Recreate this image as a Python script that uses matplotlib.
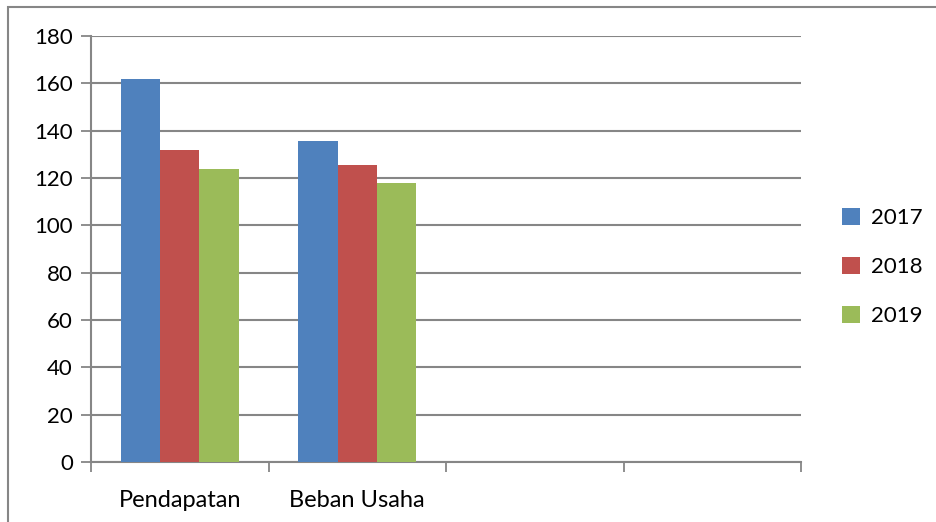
import numpy as np
import matplotlib.pyplot as plt
import matplotlib.patches as mpatches

plt.rcParams['font.family'] = ['Lato', 'DejaVu Sans']

# --- data ---
categories = ['Pendapatan', 'Beban Usaha', '', '']
years = ['2017', '2018', '2019']
v2017 = [162, 135.5]
v2018 = [132, 125.6]
v2019 = [124, 117.7]
colors = ['#4f81bd', '#c0504d', '#9bbb59']

fig = plt.figure(figsize=(9.36, 5.22), dpi=100)
# outer chart border (Excel style)
fig.patches.append(mpatches.Rectangle((8 / 936, -0.1), 1.2, 1 - 7 / 522 + 0.1,
                                      transform=fig.transFigure, fill=False,
                                      edgecolor='#868686', linewidth=1.5))

ax = fig.add_axes([91 / 936, 1 - 462 / 522, 710 / 936, 426 / 522])

bw = 2 / 9
x = np.arange(2) + 0.5
for i, (vals, lab) in enumerate(zip([v2017, v2018, v2019], years)):
    ax.bar(x + (i - 1) * bw, vals, width=bw, color=colors[i], label=lab,
           zorder=3, edgecolor='none')

ax.set_xlim(0, 4)
ax.set_ylim(0, 180)
ax.set_yticks(np.arange(0, 181, 20))
ax.yaxis.grid(True, color='#868686', linewidth=1.5, zorder=0)

ax.set_xticks(np.arange(0, 5))
ax.set_xticklabels([])
ax.set_xticks(np.arange(4) + 0.5, minor=True)
ax.set_xticklabels(categories, minor=True)
ax.tick_params(axis='x', which='minor', length=0, pad=20, labelsize=17)
ax.tick_params(axis='x', which='major', length=7, width=1.3, color='#868686')
ax.tick_params(axis='y', length=7, width=1.3, color='#868686', labelsize=16, pad=6)

for s in ['top', 'right']:
    ax.spines[s].set_visible(False)
for s in ['left', 'bottom']:
    ax.spines[s].set_color('#868686')
    ax.spines[s].set_linewidth(1.5)

leg = ax.legend(loc='center left', bbox_to_anchor=(1.03, 0.458), frameon=False,
                fontsize=16, handlelength=0.8, handleheight=0.8,
                labelspacing=1.3, handletextpad=0.5)

fig.savefig('out.png', dpi=100)
